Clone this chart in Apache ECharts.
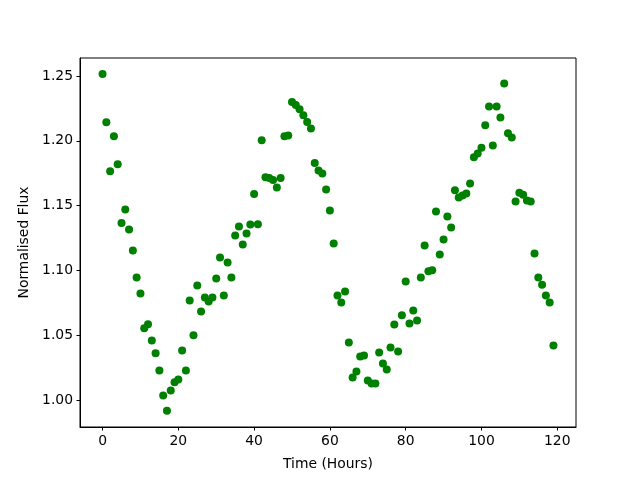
<!DOCTYPE html>
<html>
<head>
<meta charset="utf-8">
<script src="https://cdn.jsdelivr.net/npm/echarts@6/dist/echarts.min.js"></script>
<style>
  html, body { margin: 0; padding: 0; background: #fff; }
  #chart { width: 640px; height: 480px; }
</style>
</head>
<body>
<div id="chart"></div>
<script>
// hours 0..119, one reading per hour
const hours = []
for (let i = 0; i < 120; i++) hours.push(i)

const flux = [
  1.2515, 1.2143, 1.1765, 1.2035, 1.1819, 1.1366, 1.1471, 1.1317, 1.1155, 1.0947,
  1.0823, 1.0556, 1.0586, 1.0460, 1.0363, 1.0229, 1.0036, 0.9920, 1.0075, 1.0139,
  1.0160, 1.0383, 1.0229, 1.0769, 1.0502, 1.0885, 1.0684, 1.0792, 1.0761, 1.0792,
  1.0939, 1.1101, 1.0808, 1.1062, 1.0947, 1.1271, 1.1340, 1.1201, 1.1286, 1.1355,
  1.1590, 1.1358, 1.2004, 1.1720, 1.1713, 1.1698, 1.1641, 1.1713, 1.2035, 1.2042,
  1.2299, 1.2276, 1.2243, 1.2197, 1.2145, 1.2096, 1.1829, 1.1772, 1.1749, 1.1626,
  1.1464, 1.1209, 1.0808, 1.0754, 1.0839, 1.0445, 1.0175, 1.0221, 1.0337, 1.0345,
  1.0152, 1.0129, 1.0129, 1.0368, 1.0283, 1.0237, 1.0407, 1.0584, 1.0376, 1.0655,
  1.0916, 1.0592, 1.0692, 1.0615, 1.0947, 1.1194, 1.0995, 1.1003, 1.1456, 1.1124,
  1.1240, 1.1417, 1.1333, 1.1620, 1.1564, 1.1579, 1.1595, 1.1672, 1.1873, 1.1903,
  1.1947, 1.2120, 1.2266, 1.1965, 1.2266, 1.2181, 1.2443, 1.2058, 1.2027, 1.1533,
  1.1600, 1.1584, 1.1541, 1.1533, 1.1132, 1.0947, 1.0890, 1.0808, 1.0754, 1.0422
]

const xTicks = [0, 20, 40, 60, 80, 100, 120]
const yTicks = [1.00, 1.05, 1.10, 1.15, 1.20, 1.25]

const points = hours.map((h, i) => [h, flux[i]])

const myChart = echarts.init(document.getElementById('chart'))

const font = 'DejaVu Sans'

const option = {
  animation: false,
  backgroundColor: '#fff',
  grid: {
    left: 80,
    right: 64,
    top: 58,
    bottom: 53,
    show: true,
    borderColor: '#000',
    borderWidth: 1
  },
  xAxis: {
    type: 'value',
    min: -5.95,
    max: 124.95,
    name: 'Time (Hours)',
    nameLocation: 'middle',
    nameGap: 30,
    nameTextStyle: { color: '#000', fontFamily: font, fontSize: 13.9 },
    axisLine: { show: true, onZero: false, lineStyle: { color: '#000', width: 1 } },
    axisTick: { show: true, length: 3.5, lineStyle: { color: '#000' }, customValues: xTicks },
    axisLabel: { color: '#000', fontFamily: font, fontSize: 13.9, margin: 7, customValues: xTicks },
    splitLine: { show: false }
  },
  yAxis: {
    type: 'value',
    min: 0.9794,
    max: 1.2639,
    name: 'Normalised Flux',
    nameLocation: 'middle',
    nameGap: 43,
    nameTextStyle: { color: '#000', fontFamily: font, fontSize: 13.9 },
    axisLine: { show: true, onZero: false, lineStyle: { color: '#000', width: 1 } },
    axisTick: { show: true, length: 3.5, lineStyle: { color: '#000' }, customValues: yTicks },
    axisLabel: {
      color: '#000', fontFamily: font, fontSize: 13.9, margin: 7,
      customValues: yTicks,
      formatter: v => v.toFixed(2)
    },
    splitLine: { show: false }
  },
  series: [
    {
      type: 'scatter',
      data: points,
      symbol: 'circle',
      symbolSize: 8,
      itemStyle: { color: '#008000', opacity: 1 }
    }
  ]
}

myChart.setOption(option)
</script>
</body>
</html>
